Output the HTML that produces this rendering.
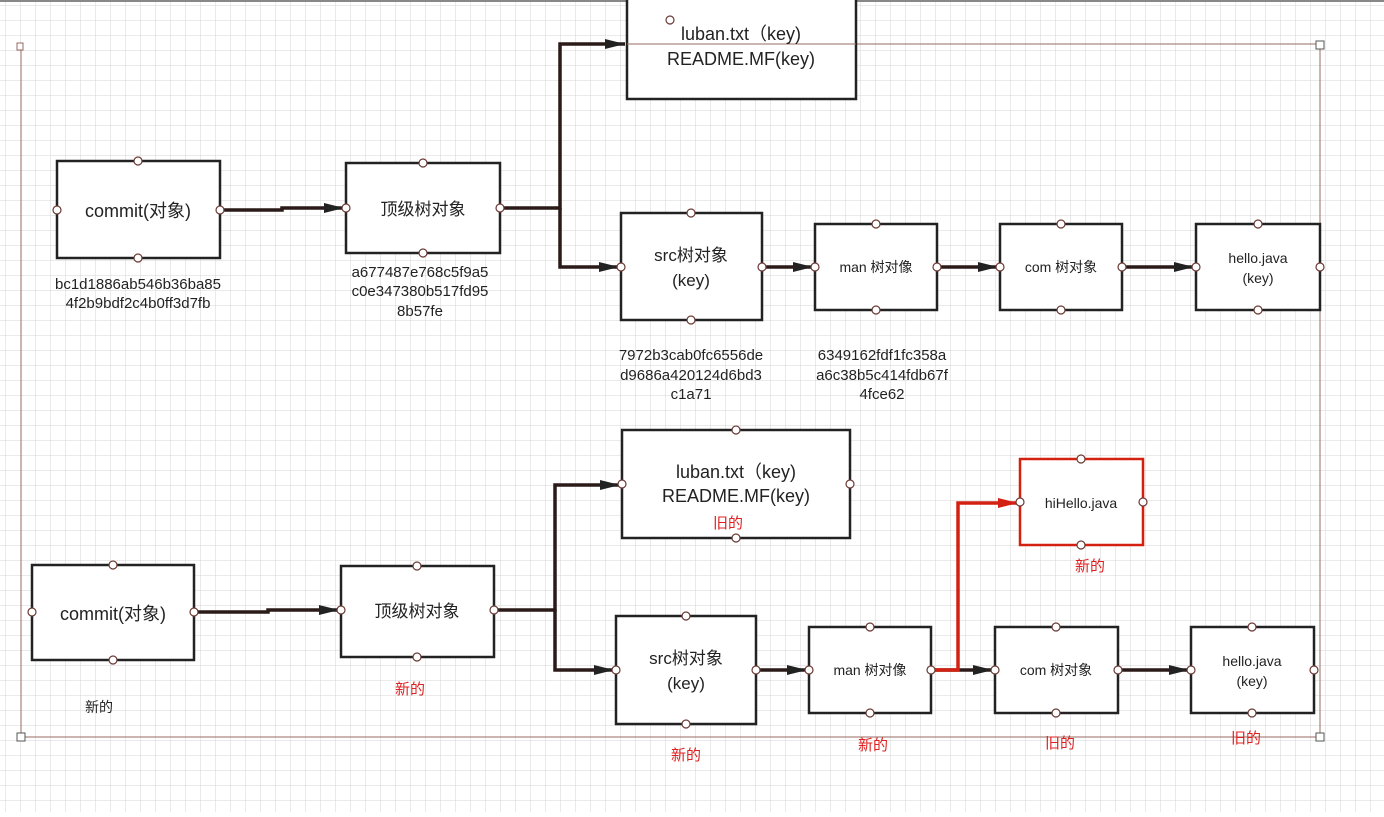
<!DOCTYPE html>
<html><head><meta charset="utf-8"><style>
body{margin:0;width:1384px;height:812px;overflow:hidden;background:#fff;font-family:"Liberation Sans","Noto Sans CJK SC",sans-serif}
</style></head><body>
<svg width="1384" height="812" xmlns="http://www.w3.org/2000/svg" font-family="Liberation Sans, Noto Sans CJK SC, sans-serif">
<defs>
<pattern id="g" width="15" height="15" patternUnits="userSpaceOnUse" x="6" y="6"><path d="M15 0V15M0 15H15" stroke="#d6d6d6" stroke-width="1" fill="none"/></pattern>
<marker id="ab" viewBox="0 0 20 10" markerWidth="20" markerHeight="11" refX="20" refY="5" orient="auto" markerUnits="userSpaceOnUse"><path d="M0 0L20 5L0 10z" fill="#222"/></marker>
<marker id="ar" viewBox="0 0 20 10" markerWidth="20" markerHeight="11" refX="20" refY="5" orient="auto" markerUnits="userSpaceOnUse"><path d="M0 0L20 5L0 10z" fill="#d42010"/></marker>
</defs>
<rect width="1384" height="812" fill="url(#g)"/>
<rect x="0" y="0" width="1384" height="2" fill="#888"/>
<g stroke="#9a6a60" stroke-width="1" fill="none">
<path d="M627 44H1320V737H21V46"/>
</g>
<rect x="17" y="43" width="6" height="7" fill="#fff" stroke="#9a6a60"/>
<rect x="1316" y="41" width="8" height="8" fill="#fff" stroke="#555"/>
<rect x="1316" y="733" width="8" height="8" fill="#fff" stroke="#555"/>
<rect x="17" y="733" width="8" height="8" fill="#fff" stroke="#555"/>
<g stroke="#2a1a18" stroke-width="3.5" fill="none">
<path d="M220 210H282V208H344" marker-end="url(#ab)"/>
<path d="M500 208H560V44H625" marker-end="url(#ab)"/>
<path d="M560 208V267H619" marker-end="url(#ab)"/>
<path d="M762 267H813" marker-end="url(#ab)"/>
<path d="M937 267H998" marker-end="url(#ab)"/>
<path d="M1122 267H1194" marker-end="url(#ab)"/>
<path d="M194 612H268V610H339" marker-end="url(#ab)"/>
<path d="M494 610H555V485H620" marker-end="url(#ab)"/>
<path d="M555 610V670H614" marker-end="url(#ab)"/>
<path d="M756 670H807" marker-end="url(#ab)"/>
<path d="M931 670H993" marker-end="url(#ab)"/>
<path d="M1118 670H1189" marker-end="url(#ab)"/>
</g>
<path d="M931 670H958V503H1018" stroke="#d42010" stroke-width="3.5" fill="none" marker-end="url(#ar)"/>
<g stroke="#222" stroke-width="2.5" fill="#fff">
<rect x="57" y="161" width="163" height="97"/>
<rect x="346" y="163" width="154" height="90"/>
<rect x="627" y="-5" width="229" height="104"/>
<rect x="621" y="213" width="141" height="107"/>
<rect x="815" y="224" width="122" height="86"/>
<rect x="1000" y="224" width="122" height="86"/>
<rect x="1196" y="224" width="124" height="86"/>
<rect x="622" y="430" width="228" height="108"/>
<rect x="1020" y="459" width="123" height="86" stroke="#d42010"/>
<rect x="32" y="565" width="162" height="95"/>
<rect x="341" y="566" width="153" height="91"/>
<rect x="616" y="616" width="140" height="108"/>
<rect x="809" y="627" width="122" height="86"/>
<rect x="995" y="627" width="123" height="86"/>
<rect x="1191" y="627" width="123" height="86"/>
</g>
<path d="M627 44H856" stroke="#9a6a60" stroke-width="1"/>
<g fill="#fff" stroke="#6a3a34" stroke-width="1.2">
<circle cx="138" cy="161" r="4"/><circle cx="138" cy="258" r="4"/><circle cx="57" cy="210" r="4"/><circle cx="220" cy="210" r="4"/>
<circle cx="423" cy="163" r="4"/><circle cx="423" cy="253" r="4"/><circle cx="346" cy="208" r="4"/><circle cx="500" cy="208" r="4"/>
<circle cx="670" cy="20" r="4"/>
<circle cx="691" cy="213" r="4"/><circle cx="691" cy="320" r="4"/><circle cx="621" cy="267" r="4"/><circle cx="762" cy="267" r="4"/>
<circle cx="876" cy="224" r="4"/><circle cx="876" cy="310" r="4"/><circle cx="815" cy="267" r="4"/><circle cx="937" cy="267" r="4"/>
<circle cx="1061" cy="224" r="4"/><circle cx="1061" cy="310" r="4"/><circle cx="1000" cy="267" r="4"/><circle cx="1122" cy="267" r="4"/>
<circle cx="1258" cy="224" r="4"/><circle cx="1258" cy="310" r="4"/><circle cx="1196" cy="267" r="4"/><circle cx="1320" cy="267" r="4"/>
<circle cx="736" cy="430" r="4"/><circle cx="736" cy="538" r="4"/><circle cx="622" cy="484" r="4"/><circle cx="850" cy="484" r="4"/>
<circle cx="1081" cy="459" r="4"/><circle cx="1081" cy="545" r="4"/><circle cx="1020" cy="502" r="4"/><circle cx="1143" cy="502" r="4"/>
<circle cx="113" cy="565" r="4"/><circle cx="113" cy="660" r="4"/><circle cx="32" cy="612" r="4"/><circle cx="194" cy="612" r="4"/>
<circle cx="417" cy="566" r="4"/><circle cx="417" cy="657" r="4"/><circle cx="341" cy="610" r="4"/><circle cx="494" cy="610" r="4"/>
<circle cx="686" cy="616" r="4"/><circle cx="686" cy="724" r="4"/><circle cx="616" cy="670" r="4"/><circle cx="756" cy="670" r="4"/>
<circle cx="870" cy="627" r="4"/><circle cx="870" cy="713" r="4"/><circle cx="809" cy="670" r="4"/><circle cx="931" cy="670" r="4"/>
<circle cx="1056" cy="627" r="4"/><circle cx="1056" cy="713" r="4"/><circle cx="995" cy="670" r="4"/><circle cx="1118" cy="670" r="4"/>
<circle cx="1252" cy="627" r="4"/><circle cx="1252" cy="713" r="4"/><circle cx="1191" cy="670" r="4"/><circle cx="1314" cy="670" r="4"/>
</g>
<g fill="#222" text-anchor="middle">
<text x="138" y="217" font-size="18">commit(对象)</text>
<text x="423" y="215" font-size="17">顶级树对象</text>
<text x="741" y="40" font-size="18">luban.txt（key)</text>
<text x="741" y="65" font-size="18">README.MF(key)</text>
<text x="691" y="261" font-size="17">src树对象</text>
<text x="691" y="286" font-size="17">(key)</text>
<text x="876" y="272" font-size="14">man 树对像</text>
<text x="1061" y="272" font-size="14">com 树对象</text>
<text x="1258" y="263" font-size="14">hello.java</text>
<text x="1258" y="283" font-size="14">(key)</text>
<g font-size="15">
<text x="138" y="289">bc1d1886ab546b36ba85</text><text x="138" y="308">4f2b9bdf2c4b0ff3d7fb</text>
<text x="420" y="277">a677487e768c5f9a5</text><text x="420" y="296">c0e347380b517fd95</text><text x="420" y="316">8b57fe</text>
<text x="691" y="360">7972b3cab0fc6556de</text><text x="691" y="380">d9686a420124d6bd3</text><text x="691" y="399">c1a71</text>
<text x="882" y="360">6349162fdf1fc358a</text><text x="882" y="380">a6c38b5c414fdb67f</text><text x="882" y="399">4fce62</text>
<text x="99" y="712" font-size="14">新的</text>
</g>
<text x="736" y="478" font-size="18">luban.txt（key)</text>
<text x="736" y="502" font-size="18">README.MF(key)</text>
<text x="1081" y="508" font-size="14">hiHello.java</text>
<text x="113" y="620" font-size="18">commit(对象)</text>
<text x="417" y="617" font-size="17">顶级树对象</text>
<text x="686" y="664" font-size="17">src树对象</text>
<text x="686" y="689" font-size="17">(key)</text>
<text x="870" y="675" font-size="14">man 树对像</text>
<text x="1056" y="675" font-size="14">com 树对象</text>
<text x="1252" y="666" font-size="14">hello.java</text>
<text x="1252" y="686" font-size="14">(key)</text>
</g>
<g fill="#e02020" text-anchor="middle" font-size="15">
<text x="728" y="528">旧的</text>
<text x="1090" y="571">新的</text>
<text x="410" y="694">新的</text>
<text x="686" y="760">新的</text>
<text x="873" y="750">新的</text>
<text x="1060" y="748">旧的</text>
<text x="1246" y="743">旧的</text>
</g>
</svg>
</body></html>
